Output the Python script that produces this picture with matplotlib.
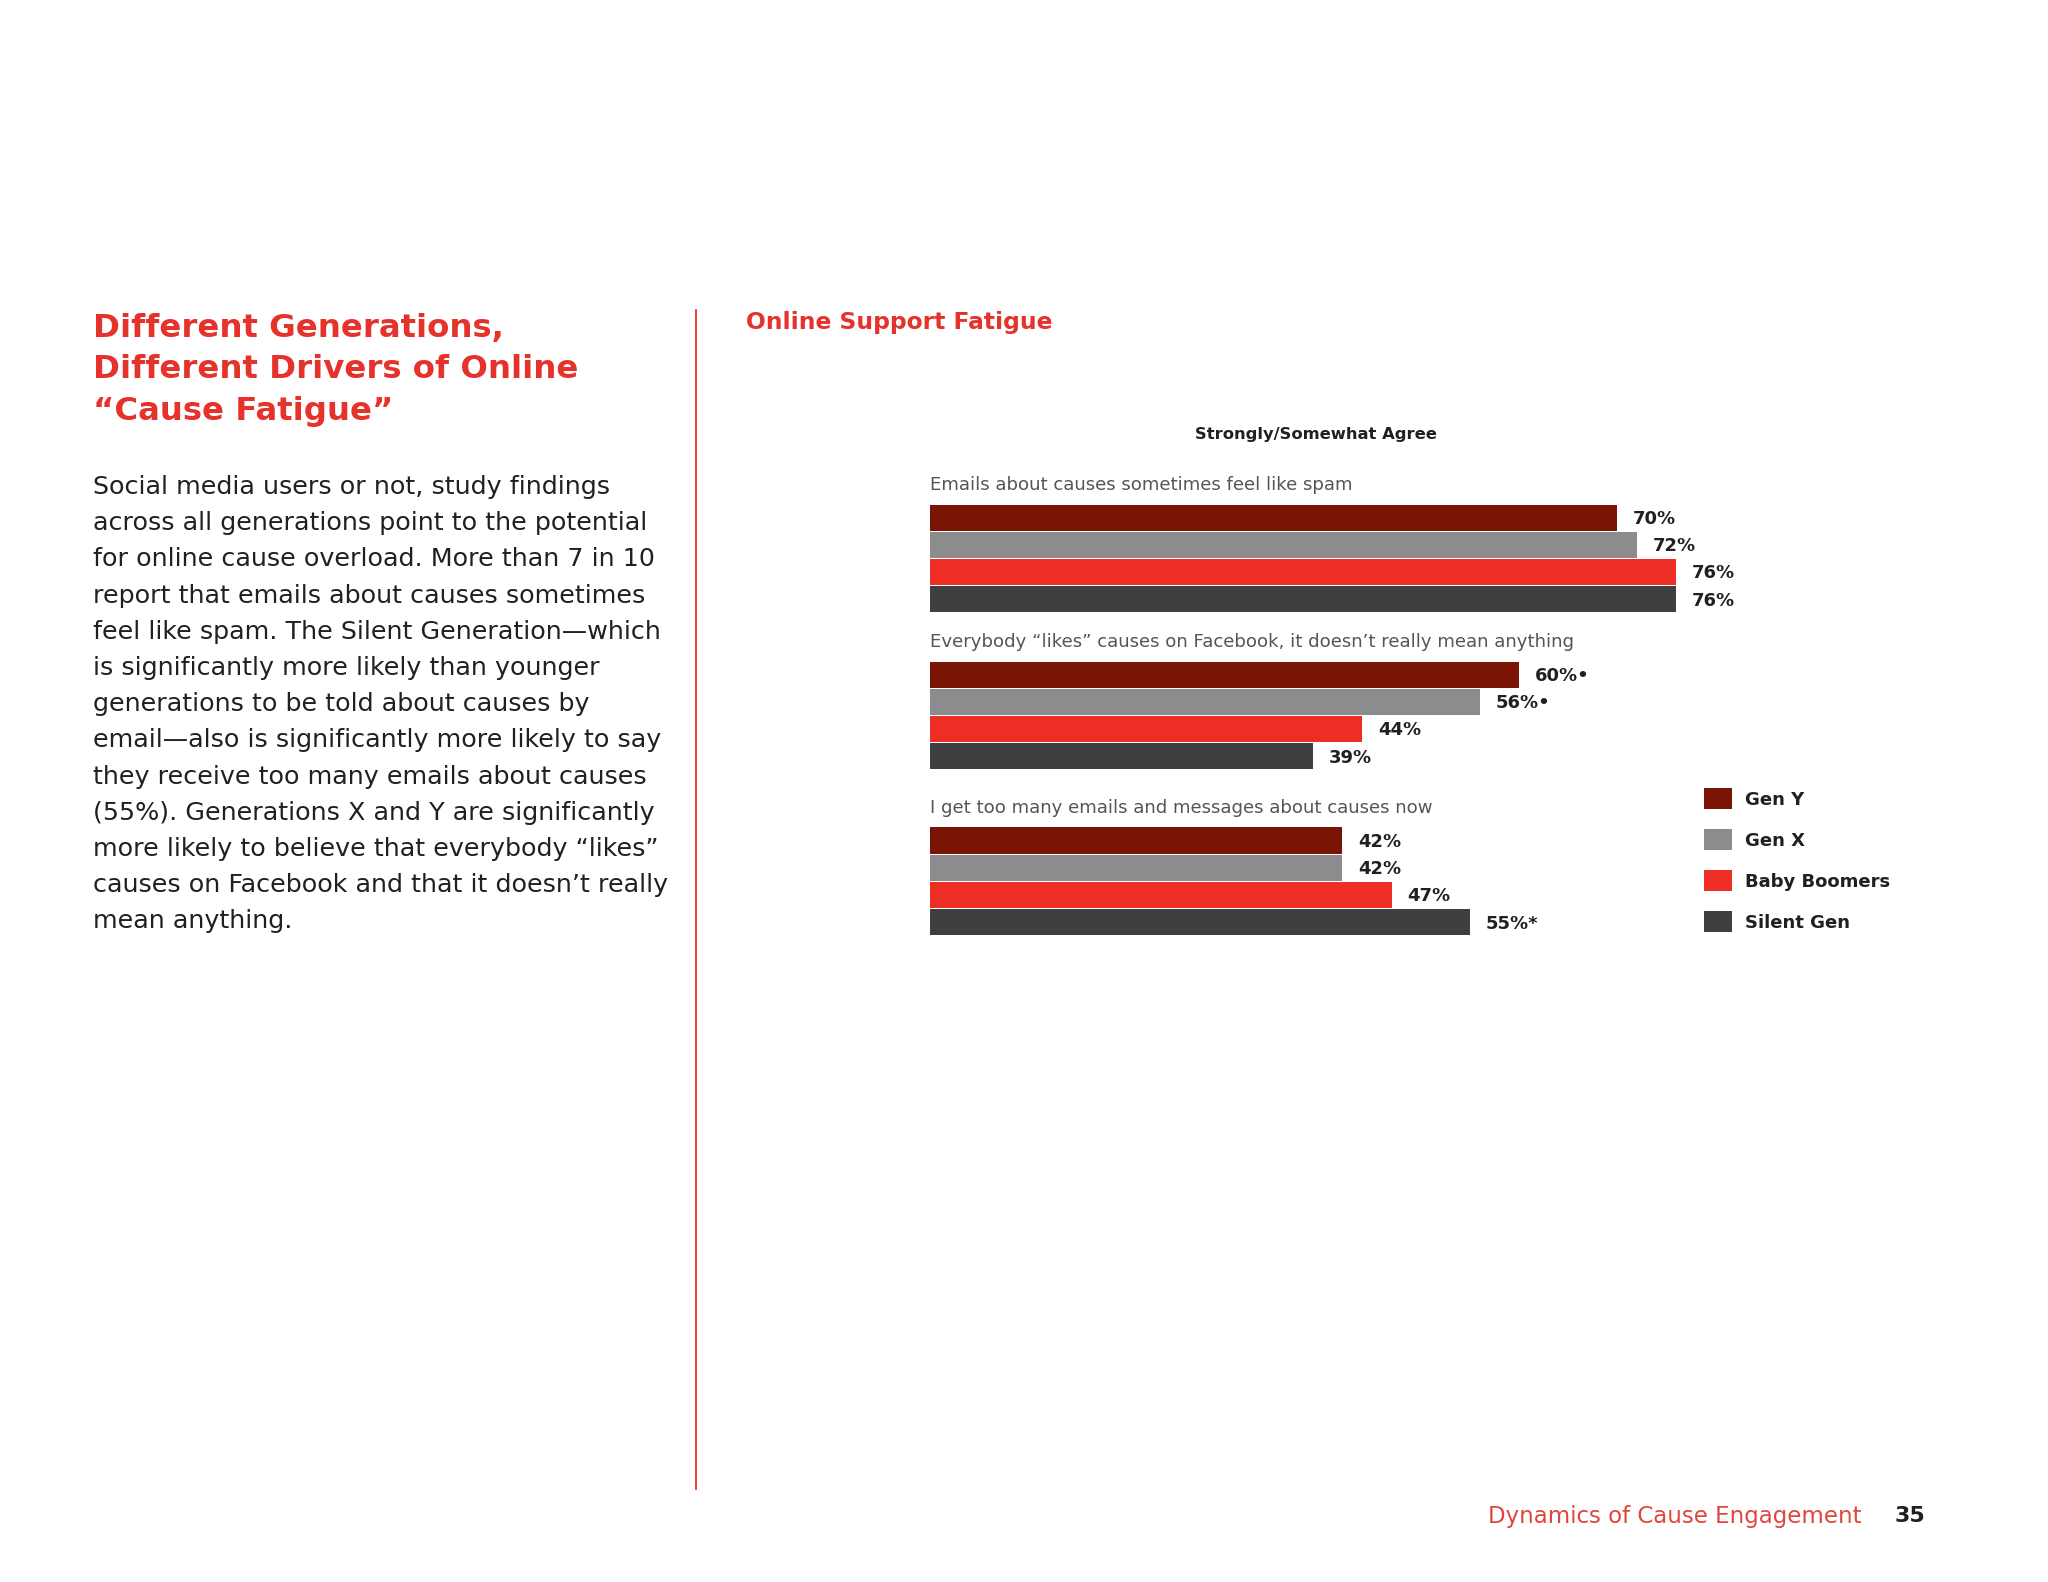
import matplotlib
matplotlib.use("Agg")
import matplotlib.pyplot as plt
from matplotlib.patches import Patch

W, H = 2048, 1582

# --- data ---
categories = [
    "Emails about causes sometimes feel like spam",
    "Everybody \u201clikes\u201d causes on Facebook, it doesn\u2019t really mean anything",
    "I get too many emails and messages about causes now",
]
series = ["Gen Y", "Gen X", "Baby Boomers", "Silent Gen"]
gen_y = [70, 60, 42]
gen_x = [72, 56, 42]
boomers = [76, 44, 47]
silent = [76, 39, 55]
notes = {
    "Gen Y": ["", "\u2022", ""],
    "Gen X": ["", "\u2022", ""],
    "Baby Boomers": ["", "", ""],
    "Silent Gen": ["", "", "*"],
}
values = {"Gen Y": gen_y, "Gen X": gen_x, "Baby Boomers": boomers, "Silent Gen": silent}
colors = {"Gen Y": "#7a1506", "Gen X": "#8c8c8f", "Baby Boomers": "#ee2d24", "Silent Gen": "#3f3f40"}

title_lines = ["Different Generations,", "Different Drivers of Online", "\u201cCause Fatigue\u201d"]
body_lines = [
    "Social media users or not, study findings",
    "across all generations point to the potential",
    "for online cause overload. More than 7 in 10",
    "report that emails about causes sometimes",
    "feel like spam. The Silent Generation\u2014which",
    "is significantly more likely than younger",
    "generations to be told about causes by",
    "email\u2014also is significantly more likely to say",
    "they receive too many emails about causes",
    "(55%). Generations X and Y are significantly",
    "more likely to believe that everybody \u201clikes\u201d",
    "causes on Facebook and that it doesn\u2019t really",
    "mean anything.",
]

RED = "#e5322a"
DARK = "#231f20"

plt.rcParams["font.family"] = ["DejaVu Sans"]


def fx(x):
    return x / W


def fy(y):
    return 1 - y / H


fig = plt.figure(figsize=(W / 100, H / 100), dpi=100)
fig.patch.set_facecolor("white")

# left column
for i, line in enumerate(title_lines):
    fig.text(fx(93), fy(328 + i * 41.8), line, color=RED, fontsize=23.3,
             fontweight="bold", va="center", ha="left")
for i, line in enumerate(body_lines):
    fig.text(fx(93), fy(487 + i * 36.2), line, color=DARK, fontsize=18.3,
             va="center", ha="left")

# divider
fig.add_artist(plt.Line2D([fx(696), fx(696)], [fy(310), fy(1489)],
                          color=RED, lw=1.3))

fig.text(fx(746), fy(323), "Online Support Fatigue", color=RED, fontsize=16.8,
         fontweight="bold", va="center", ha="left")
fig.text(fx(1316), fy(434), "Strongly/Somewhat Agree", color=DARK, fontsize=11.8,
         fontweight="bold", va="center", ha="center")

# bar chart
unit = 27.25
group_offsets = [0, 5.76, 11.85]
total = group_offsets[-1] + len(series)
ax_left, ax_top = 930, 504
ax = fig.add_axes([fx(ax_left), fy(ax_top + total * unit), 982 / W, total * unit / H])
ax.set_xlim(0, 100)
ax.set_ylim(total, 0)
ax.axis("off")

for g, cat in enumerate(categories):
    base = group_offsets[g]
    ax.text(0, base - 0.68, cat, color="#555555", fontsize=13.1, va="center", ha="left")
    for i, s in enumerate(series):
        v = values[s][g]
        yc = base + i + 0.5
        ax.barh(yc, v, height=0.96, color=colors[s], edgecolor="none")
        ax.text(v + 1.6, yc + 0.05, f"{v}%{notes[s][g]}", color=DARK, fontsize=13,
                fontweight="bold", va="center", ha="left")

handles = [Patch(facecolor=colors[s], edgecolor="none") for s in series]
leg = fig.legend(handles, series, loc="upper left", bbox_to_anchor=(fx(1704), fy(788)),
                 frameon=False, borderpad=0, borderaxespad=0, handlelength=1.55,
                 handleheight=1.45, handletextpad=0.7, labelspacing=1.08,
                 prop={"weight": "bold", "size": 13})
for t in leg.get_texts():
    t.set_color(DARK)

# footer
fig.text(fx(1862), fy(1516), "Dynamics of Cause Engagement", color="#e0463d",
         fontsize=16.5, va="center", ha="right")
fig.text(fx(1925), fy(1516), "35", color=DARK, fontsize=16, fontweight="bold",
         va="center", ha="right")

fig.savefig("out.png", dpi=100)
